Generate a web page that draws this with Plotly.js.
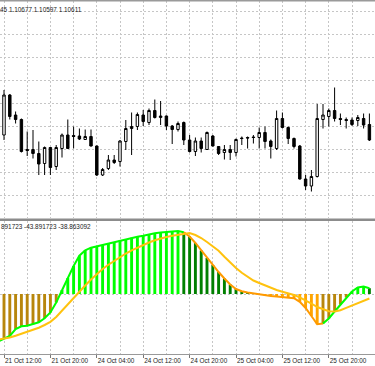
<!DOCTYPE html>
<html><head><meta charset="utf-8">
<script src="https://cdn.plot.ly/plotly-3.0.1.min.js"></script>
<style>html,body{margin:0;padding:0;background:#fff;overflow:hidden}#chart{width:375px;height:366px}</style>
</head><body><div id="chart"></div>
<script>
// H1 bars, first entry is the bar partly hidden at the left edge
const openP = [1.10120,1.10130,1.10210,1.10170,1.10161,1.10101,1.10101,1.10093,1.10073,1.10105,1.10067,1.10103,1.10130,1.10129,1.10128,1.10121,1.10127,1.10108,1.10050,1.10063,1.10080,1.10077,1.10117,1.10143,1.10147,1.10170,1.10155,1.10179,1.10165,1.10168,1.10148,1.10141,1.10155,1.10120,1.10097,1.10118,1.10101,1.10128,1.10107,1.10095,1.10101,1.10095,1.10124,1.10125,1.10126,1.10125,1.10135,1.10118,1.10103,1.10163,1.10145,1.10123,1.10108,1.10042,1.10028,1.10047,1.10161,1.10167,1.10179,1.10163,1.10161,1.10160,1.10159,1.10163,1.10151];
const highP = [1.10144,1.10220,1.10212,1.10177,1.10163,1.10137,1.10140,1.10117,1.10107,1.10106,1.10110,1.10133,1.10161,1.10147,1.10143,1.10141,1.10141,1.10109,1.10064,1.10090,1.10090,1.10120,1.10160,1.10175,1.10175,1.10180,1.10183,1.10201,1.10198,1.10169,1.10150,1.10157,1.10157,1.10130,1.10125,1.10125,1.10137,1.10130,1.10108,1.10110,1.10110,1.10123,1.10127,1.10127,1.10130,1.10145,1.10147,1.10121,1.10179,1.10175,1.10147,1.10125,1.10110,1.10050,1.10060,1.10192,1.10192,1.10183,1.10225,1.10173,1.10165,1.10165,1.10170,1.10173,1.10173];
const lowP = [1.10116,1.10120,1.10161,1.10153,1.10095,1.10088,1.10083,1.10050,1.10050,1.10050,1.10060,1.10085,1.10102,1.10103,1.10120,1.10120,1.10107,1.10048,1.10048,1.10060,1.10072,1.10067,1.10100,1.10090,1.10140,1.10148,1.10150,1.10163,1.10150,1.10140,1.10112,1.10137,1.10110,1.10095,1.10088,1.10095,1.10100,1.10107,1.10090,1.10081,1.10080,1.10087,1.10110,1.10103,1.10113,1.10103,1.10103,1.10083,1.10100,1.10143,1.10112,1.10103,1.10041,1.10020,1.10017,1.10045,1.10143,1.10147,1.10157,1.10150,1.10143,1.10148,1.10148,1.10143,1.10118];
const closeP = [1.10136,1.10210,1.10167,1.10161,1.10097,1.10099,1.10093,1.10072,1.10105,1.10065,1.10105,1.10130,1.10103,1.10127,1.10122,1.10127,1.10108,1.10050,1.10061,1.10080,1.10075,1.10118,1.10143,1.10147,1.10171,1.10157,1.10179,1.10165,1.10168,1.10148,1.10141,1.10153,1.10120,1.10097,1.10118,1.10103,1.10135,1.10108,1.10093,1.10101,1.10095,1.10121,1.10123,1.10124,1.10125,1.10135,1.10117,1.10107,1.10163,1.10145,1.10123,1.10107,1.10042,1.10028,1.10047,1.10163,1.10170,1.10179,1.10163,1.10161,1.10159,1.10151,1.10165,1.10150,1.10120];

// oscillator histogram and its signal line
const histVals = [-47.5,-45,-42,-35,-32.3,-31.7,-30.3,-28.3,-24.3,-18.5,-8.5,4,16,28,38.3,43.7,46.3,47.7,49,50.3,52,53.7,55,56.3,57.3,58.3,59.7,60.7,61.5,62.2,62.7,63,61.8,57.5,51,43.5,36,29,22,15.5,9.5,5,2.8,1.5,0.5,-0.6,-1.3,-1.9,-2.4,-2.8,-3.2,-4.2,-7.8,-14,-22,-30.3,-29.5,-24.5,-17.5,-10.5,-3.5,2.5,6.5,7.5,5.8];
const signalVals = [-45.5,-44.5,-43.5,-41.7,-39.7,-37.8,-36,-33.7,-31,-27.8,-23,-16.5,-10.5,-4,2,8.5,14.5,20,25,29.3,33.3,37,40.5,43.7,46.5,49,51.5,53.7,55.5,57,58.2,59.3,60.4,61,59,56,52,48,43.3,37.3,31.3,26,21.2,17,13.5,11,8.5,6,4,2.3,0.8,-1,-3.3,-6.2,-9.5,-13,-15.5,-17.2,-17.5,-16.2,-13.8,-11.5,-9.3,-7,-4.5];

const tickBars = [0,8,16,24,32,40,48,56];
const tickLabels = ['21 Oct 12:00','21 Oct 20:00','24 Oct 04:00','24 Oct 12:00','24 Oct 20:00','25 Oct 04:00','25 Oct 12:00','25 Oct 20:00'];
const headerText = '45 1.10677 1.10597 1.10611';
const indicatorText = '891723 -43.891723 -38.863092';

const W = 375, H = 366;
const GRID = '#c6c6c6', GDASH = '2px,2px';
const FONT = 'Liberation Sans, Arial, sans-serif';
const bars = openP.map((_, k) => k - 1);
const rising = k => k === 0 ? true : histVals[k] > histVals[k - 1];
const barColors = histVals.map((v, k) => v >= 0 ? (rising(k) ? '#00ff00' : '#008000') : (rising(k) ? '#b8860b' : '#ffa500'));

const traces = [{
  type: 'candlestick', x: bars, open: openP, high: highP, low: lowP, close: closeP,
  xaxis: 'x', yaxis: 'y', whiskerwidth: 0, hoverinfo: 'skip',
  increasing: {line: {color: '#000', width: 1}, fillcolor: '#fff'},
  decreasing: {line: {color: '#000', width: 1}, fillcolor: '#000'}
}, {
  type: 'bar', x: bars, y: histVals, width: 0.5, xaxis: 'x2', yaxis: 'y2',
  marker: {color: barColors, line: {width: 0}}, hoverinfo: 'skip'
}];

// main line: coloured by direction of each bar (rising lime, falling orange)
for (let k = 0; k < bars.length - 1;) {
  let j = k;
  while (j + 1 < bars.length - 1 && rising(j + 1) === rising(k)) j++;
  traces.push({type: 'scatter', mode: 'lines', x: bars.slice(k, j + 2), y: histVals.slice(k, j + 2),
    xaxis: 'x2', yaxis: 'y2', hoverinfo: 'skip',
    line: {color: rising(k) ? '#00ff00' : '#ff9a00', width: 2}});
  k = j + 1;
}
traces.push({type: 'scatter', mode: 'lines', x: bars, y: signalVals, xaxis: 'x2', yaxis: 'y2',
  hoverinfo: 'skip', line: {color: '#ffc20e', width: 2}});

const xr = [-4 / 5.8, (W - 4) / 5.8];
const py = px => 1 - px / H;
const layout = {
  width: W, height: H, margin: {l: 0, r: 0, t: 0, b: 0},
  paper_bgcolor: '#fff', plot_bgcolor: '#fff', showlegend: false, boxgap: 0.4,
  xaxis: {domain: [0, 1], range: xr, anchor: 'y', tickmode: 'linear', tick0: 0, dtick: 4,
    showgrid: true, gridcolor: GRID, griddash: GDASH, gridwidth: 1, showticklabels: false, ticks: '',
    zeroline: false, rangeslider: {visible: false}},
  yaxis: {domain: [py(218), py(1)], range: [1.09964, 1.10398], tickmode: 'linear', tick0: 1.10010, dtick: 0.000458,
    showgrid: true, gridcolor: GRID, griddash: GDASH, gridwidth: 1, showticklabels: false, ticks: '', zeroline: false},
  xaxis2: {domain: [0, 1], range: xr, anchor: 'y2', tickmode: 'array', tickvals: tickBars, ticktext: tickLabels,
    ticks: 'outside', ticklen: 3, tickcolor: '#777', tickwidth: 1, showline: true, linecolor: '#999', linewidth: 1,
    showgrid: true, gridcolor: GRID, griddash: GDASH, gridwidth: 1, zeroline: false,
    minor: {tickmode: 'linear', tick0: 0, dtick: 4, showgrid: true, gridcolor: GRID, griddash: GDASH, gridwidth: 1, ticks: ''},
    ticklabelposition: 'outside right', tickfont: {family: FONT, size: 6.4, color: '#222'}},
  yaxis2: {domain: [py(354), py(221)], range: [-60, 73], tickmode: 'array', tickvals: [0],
    showgrid: true, gridcolor: GRID, griddash: GDASH, gridwidth: 1, showticklabels: false, ticks: '', zeroline: false},
  shapes: [
    {type: 'line', xref: 'paper', yref: 'paper', x0: 0, x1: 1, y0: py(0.75), y1: py(0.75), line: {color: '#9a9a9a', width: 1.5}},
    {type: 'line', xref: 'paper', yref: 'paper', x0: 0, x1: 1, y0: py(219.8), y1: py(219.8), line: {color: '#8c8c8c', width: 2.5}}
  ],
  annotations: [
    {xref: 'paper', yref: 'paper', x: -2 / W, y: py(9.5), xanchor: 'left', yanchor: 'middle', showarrow: false,
      text: headerText, font: {family: FONT, size: 6.4, color: '#222'}},
    {xref: 'paper', yref: 'paper', x: -1 / W, y: py(226.5), xanchor: 'left', yanchor: 'middle', showarrow: false,
      text: indicatorText, font: {family: FONT, size: 6.4, color: '#222'}}
  ]
};
Plotly.newPlot('chart', traces, layout, {staticPlot: true, displayModeBar: false});
</script>
</body></html>
